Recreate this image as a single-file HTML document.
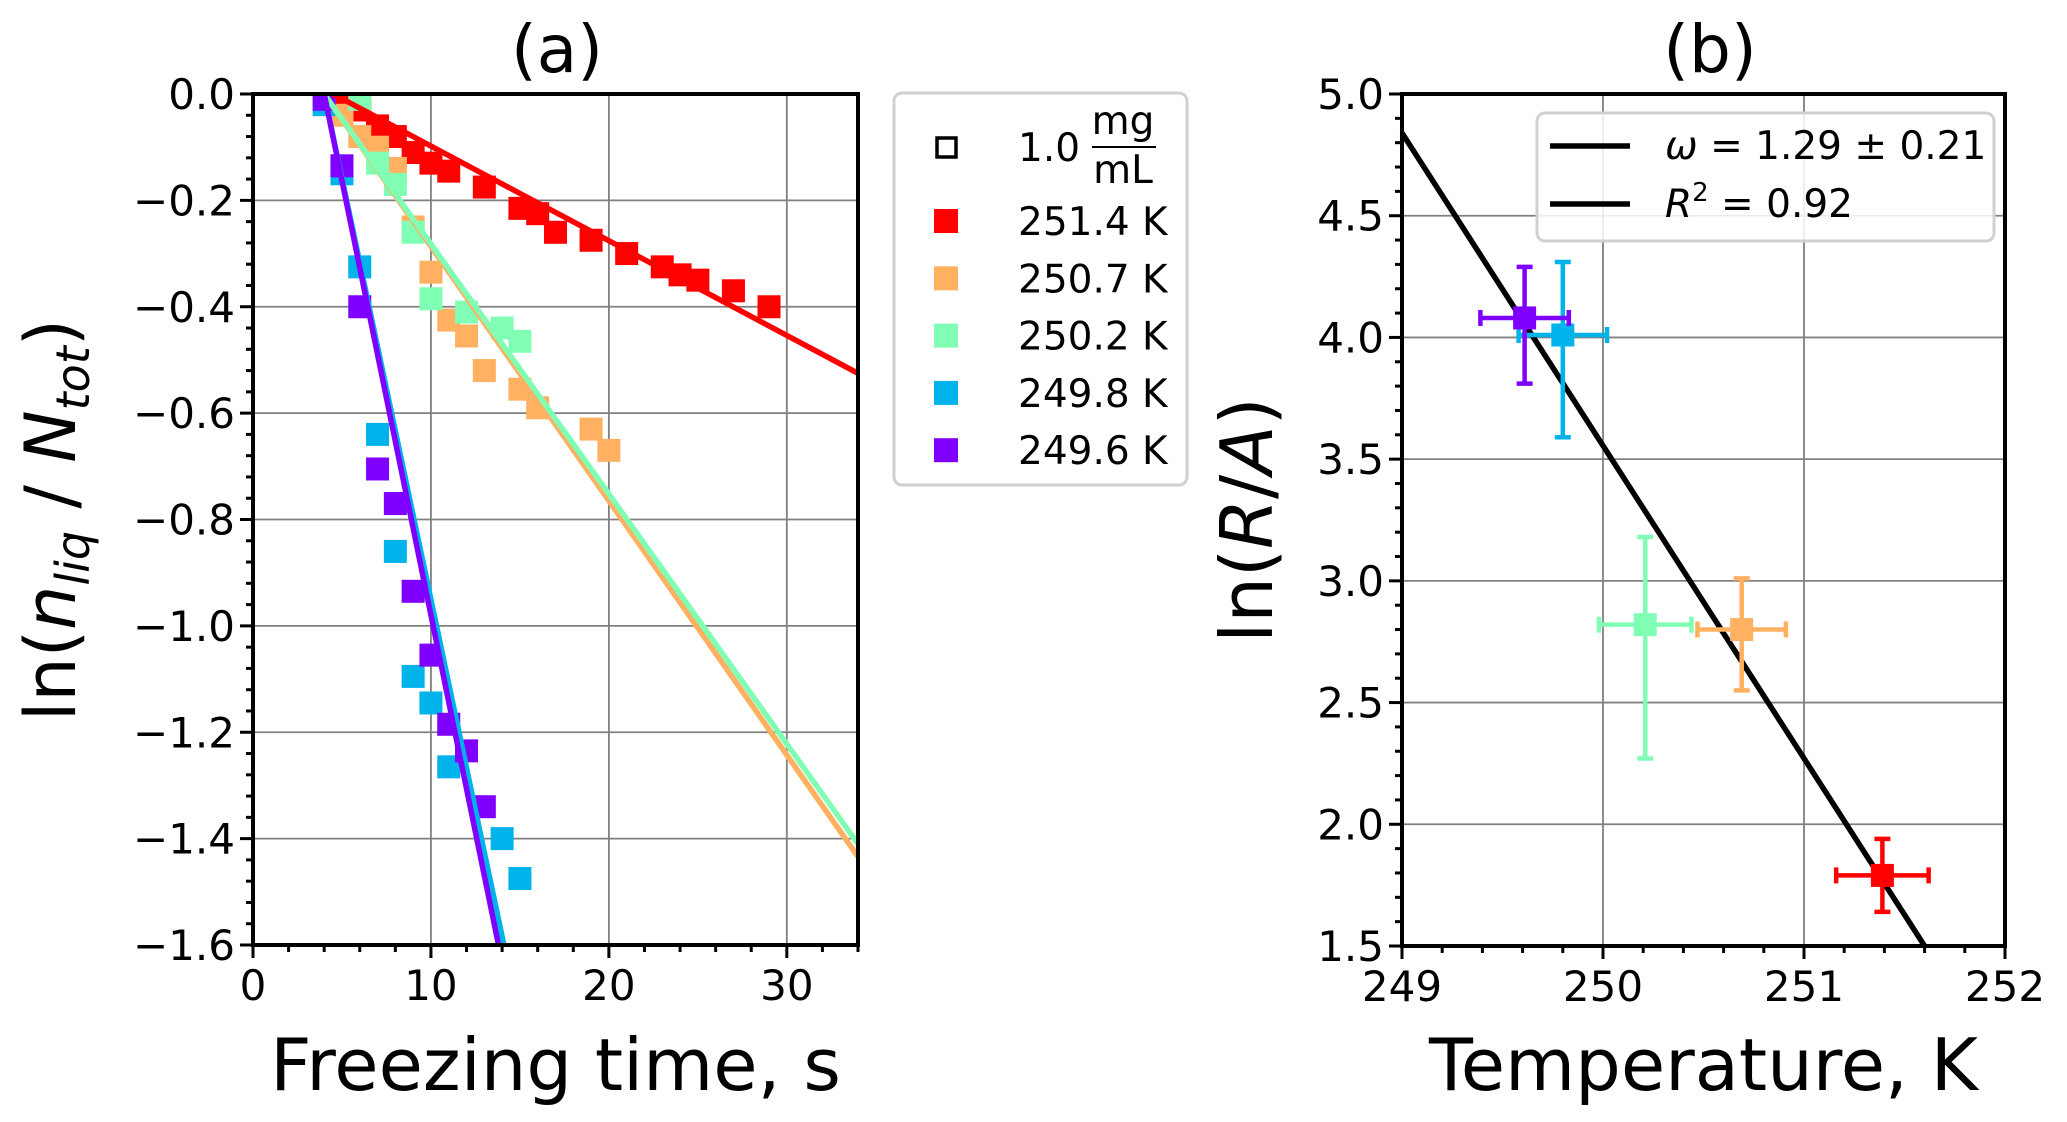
<!DOCTYPE html>
<html><head><meta charset="utf-8"><style>
html,body{margin:0;padding:0;background:#fff;overflow:hidden;width:2067px;height:1122px}
svg{display:block;font-family:"DejaVu Sans","Liberation Sans",sans-serif}
</style></head><body>
<svg id="fig" width="2067" height="1122" viewBox="0 0 2067 1122" xmlns="http://www.w3.org/2000/svg">
<g id="pa"></g>
<g id="pb"></g>
</svg>
<script>
const colors=["#ff0000","#ffb060","#80ffb4","#00b4eb","#8000ff"];
const tempLabels=["251.4 K","250.7 K","250.2 K","249.8 K","249.6 K"];
// panel a data
const redX=[5,6,7,8,9,10,11,13,15,16,17,19,21,23,24,25,27,29];
const redY=[-0.005,-0.03,-0.06,-0.08,-0.11,-0.13,-0.145,-0.175,-0.215,-0.225,-0.26,-0.275,-0.30,-0.325,-0.34,-0.35,-0.37,-0.40];
const orangeX=[4,5,6,7,8,9,10,11,12,13,15,16,19,20];
const orangeY=[-0.02,-0.04,-0.08,-0.10,-0.14,-0.25,-0.335,-0.425,-0.455,-0.52,-0.555,-0.59,-0.63,-0.67];
const greenX=[6,7,8,9,10,12,14,15];
const greenY=[-0.01,-0.13,-0.17,-0.26,-0.385,-0.41,-0.44,-0.465];
const blueX=[4,5,6,7,8,9,10,11,14,15];
const blueY=[-0.02,-0.15,-0.325,-0.64,-0.86,-1.095,-1.145,-1.265,-1.40,-1.475];
const purpleX=[4,5,6,7,8,9,10,11,12,13];
const purpleY=[-0.01,-0.135,-0.40,-0.705,-0.77,-0.935,-1.055,-1.185,-1.235,-1.34];
const fitStartX=[4.5,4,4,4,4];
const fitSlope=[-0.0178,-0.0478,-0.047,-0.1584,-0.1633];
const aXTicks=[0,10,20,30];
const aYTicks=[0,-0.2,-0.4,-0.6,-0.8,-1.0,-1.2,-1.4,-1.6];
// panel b data
const bT=[251.39,250.69,250.21,249.8,249.61];
const bLn=[1.79,2.80,2.82,4.01,4.08];
const bXerr=[0.23,0.22,0.23,0.22,0.22];
const bYlo=[1.64,2.55,2.27,3.59,3.81];
const bYhi=[1.94,3.01,3.18,4.31,4.29];
const bFitT=[249,251.6];
const bFitY=[4.84,1.50];
const bXTicks=[249,250,251,252];
const bYTicks=[1.5,2.0,2.5,3.0,3.5,4.0,4.5,5.0];

const NS="http://www.w3.org/2000/svg";
function mk(parent,tag,attrs,text){const e=document.createElementNS(NS,tag);for(const k in attrs)e.setAttribute(k,attrs[k]);if(text!==undefined)e.textContent=text;parent.appendChild(e);return e;}
function fmt(v,d){return (v<0?"\u2212":"")+Math.abs(v).toFixed(d);}
const TF=42;

// ---------- Panel A ----------
const pa=document.getElementById('pa');
const A={l:253,r:858,t:94,b:945,x0:0,x1:34,y0:-1.6,y1:0};
const ax=v=>A.l+(v-A.x0)/(A.x1-A.x0)*(A.r-A.l);
const ay=v=>A.b-(v-A.y0)/(A.y1-A.y0)*(A.b-A.t);
const clipA=mk(pa,'clipPath',{id:'clipA'});mk(clipA,'rect',{x:A.l,y:A.t,width:A.r-A.l,height:A.b-A.t});
aXTicks.forEach(v=>{const g=mk(pa,'line',{x1:ax(v),x2:ax(v),y1:A.t,y2:A.b,stroke:'#808080','stroke-width':1.8});
});
aYTicks.forEach(v=>{const g=mk(pa,'line',{x1:A.l,x2:A.r,y1:ay(v),y2:ay(v),stroke:'#808080','stroke-width':1.8});
});
const series=[[redX,redY],[orangeX,orangeY],[greenX,greenY],[blueX,blueY],[purpleX,purpleY]];
const gm=mk(pa,'g',{'clip-path':'url(#clipA)'});
series.forEach((s,i)=>{s[0].forEach((x,j)=>{const r=mk(gm,'rect',{x:ax(x)-11.5,y:ay(s[1][j])-11.5,width:23,height:23,fill:colors[i]});
});});
series.forEach((s,i)=>{const x0=fitStartX[i],x1=34;const l=mk(gm,'line',{x1:ax(x0),y1:ay(0),x2:ax(x1),y2:ay(fitSlope[i]*(x1-x0)),stroke:colors[i],'stroke-width':5.5});
});
for(let v=0;v<=34;v+=2){mk(pa,'line',{x1:ax(v),x2:ax(v),y1:A.b,y2:A.b+(v%10===0?13:7),stroke:'#000','stroke-width':3});}
for(let k=0;k<=40;k++){const v=-k*0.04;mk(pa,'line',{x1:A.l,x2:A.l-(k%5===0?13:7),y1:ay(v),y2:ay(v),stroke:'#000','stroke-width':3});}
mk(pa,'rect',{x:A.l,y:A.t,width:A.r-A.l,height:A.b-A.t,fill:'none',stroke:'#000','stroke-width':4});
aXTicks.forEach(v=>{const t=mk(pa,'text',{x:ax(v),y:A.b+55,'font-size':TF,'text-anchor':'middle'},String(v));
});
aYTicks.forEach(v=>{const t=mk(pa,'text',{x:A.l-18,y:ay(v)+15,'font-size':TF,'text-anchor':'end'},fmt(v,1));
});
let t=mk(pa,'text',{x:(A.l+A.r)/2,y:1090,'font-size':72,'text-anchor':'middle'},'Freezing time, s');

t=mk(pa,'text',{x:557,y:72,'font-size':66,'text-anchor':'middle'},'(a)');

t=mk(pa,'text',{transform:'translate(75,520) rotate(-90)','font-size':70,'text-anchor':'middle'});

t.innerHTML='ln(<tspan font-style="italic">n</tspan><tspan font-style="italic" font-size="46" dy="14">liq</tspan><tspan dy="-14"> / </tspan><tspan font-style="italic">N</tspan><tspan font-style="italic" font-size="46" dy="14">tot</tspan><tspan dy="-14">)</tspan>';
// legend a
const la=mk(pa,'g',{});
mk(la,'rect',{x:894,y:93,width:293,height:392,rx:8,fill:'#fff',stroke:'#d0d0d0','stroke-width':3});
mk(la,'rect',{x:937,y:138,width:19,height:19,fill:'none',stroke:'#000','stroke-width':3.5});
mk(la,'text',{x:1018,y:161,'font-size':39},'1.0');
mk(la,'text',{x:1123,y:134,'font-size':39,'text-anchor':'middle'},'mg');
mk(la,'line',{x1:1092,x2:1156,y1:147,y2:147,stroke:'#000','stroke-width':2});
mk(la,'text',{x:1123,y:183,'font-size':39,'text-anchor':'middle'},'mL');
tempLabels.forEach((lab,i)=>{const y=221+i*57.3;
const r=mk(la,'rect',{x:934,y:y-12,width:24,height:24,fill:colors[i]});
const tx=mk(la,'text',{x:1018,y:y+14,'font-size':39},lab);});

// ---------- Panel B ----------
const pb=document.getElementById('pb');
const B={l:1402,r:2005,t:94,b:946,x0:249,x1:252,y0:1.5,y1:5.0};
const bx=v=>B.l+(v-B.x0)/(B.x1-B.x0)*(B.r-B.l);
const by=v=>B.b-(v-B.y0)/(B.y1-B.y0)*(B.b-B.t);
bXTicks.forEach(v=>{const g=mk(pb,'line',{x1:bx(v),x2:bx(v),y1:B.t,y2:B.b,stroke:'#808080','stroke-width':1.8});
});
bYTicks.forEach(v=>{const g=mk(pb,'line',{x1:B.l,x2:B.r,y1:by(v),y2:by(v),stroke:'#808080','stroke-width':1.8});
});
let fl=mk(pb,'line',{x1:bx(bFitT[0]),y1:by(bFitY[0]),x2:bx(bFitT[1]),y2:by(bFitY[1]),stroke:'#000','stroke-width':5.5});

bT.forEach((T,i)=>{const g=mk(pb,'g',{stroke:colors[i],'stroke-width':4.5});

const cx=bx(T),cy=by(bLn[i]),xl=bx(T-bXerr[i]),xr=bx(T+bXerr[i]),yt=by(bYhi[i]),yb=by(bYlo[i]);
mk(g,'line',{x1:xl,x2:xr,y1:cy,y2:cy});mk(g,'line',{x1:cx,x2:cx,y1:yt,y2:yb});
mk(g,'line',{x1:xl,x2:xl,y1:cy-8,y2:cy+8});mk(g,'line',{x1:xr,x2:xr,y1:cy-8,y2:cy+8});
mk(g,'line',{x1:cx-8,x2:cx+8,y1:yt,y2:yt});mk(g,'line',{x1:cx-8,x2:cx+8,y1:yb,y2:yb});
mk(g,'rect',{x:cx-11.5,y:cy-11.5,width:23,height:23,fill:colors[i],stroke:'none'});});
for(let k=0;k<=15;k++){const v=249+k*0.2;mk(pb,'line',{x1:bx(v),x2:bx(v),y1:B.b,y2:B.b+(k%5===0?13:7),stroke:'#000','stroke-width':3});}
for(let k=0;k<=35;k++){const v=1.5+k*0.1;mk(pb,'line',{x1:B.l,x2:B.l-(k%5===0?13:7),y1:by(v),y2:by(v),stroke:'#000','stroke-width':3});}
mk(pb,'rect',{x:B.l,y:B.t,width:B.r-B.l,height:B.b-B.t,fill:'none',stroke:'#000','stroke-width':4});
bXTicks.forEach(v=>{const t=mk(pb,'text',{x:bx(v),y:B.b+55,'font-size':TF,'text-anchor':'middle'},String(v));
});
bYTicks.forEach(v=>{const t=mk(pb,'text',{x:B.l-18,y:by(v)+15,'font-size':TF,'text-anchor':'end'},v.toFixed(1));
});
t=mk(pb,'text',{x:(B.l+B.r)/2,y:1090,'font-size':72,'text-anchor':'middle'},'Temperature, K');

t=mk(pb,'text',{x:1710,y:72,'font-size':66,'text-anchor':'middle'},'(b)');

t=mk(pb,'text',{transform:'translate(1272,520) rotate(-90)','font-size':72,'text-anchor':'middle'});

t.innerHTML='ln(<tspan font-style="italic">R</tspan>/<tspan font-style="italic">A</tspan>)';
const lb=mk(pb,'g',{});
mk(lb,'rect',{x:1537,y:113,width:457,height:128,rx:8,fill:'#fff','fill-opacity':0.85,stroke:'#d0d0d0','stroke-width':3});
mk(lb,'line',{x1:1550,x2:1630,y1:146,y2:146,stroke:'#000','stroke-width':5.5});
mk(lb,'line',{x1:1550,x2:1630,y1:204,y2:204,stroke:'#000','stroke-width':5.5});
t=mk(lb,'text',{x:1665,y:159,'font-size':39});t.innerHTML='<tspan font-style="italic">ω</tspan> = 1.29 ± 0.21';

t=mk(lb,'text',{x:1665,y:217,'font-size':39});t.innerHTML='<tspan font-style="italic">R</tspan><tspan font-size="26" dy="-16">2</tspan><tspan dy="16"> = 0.92</tspan>';

</script>
</body></html>
